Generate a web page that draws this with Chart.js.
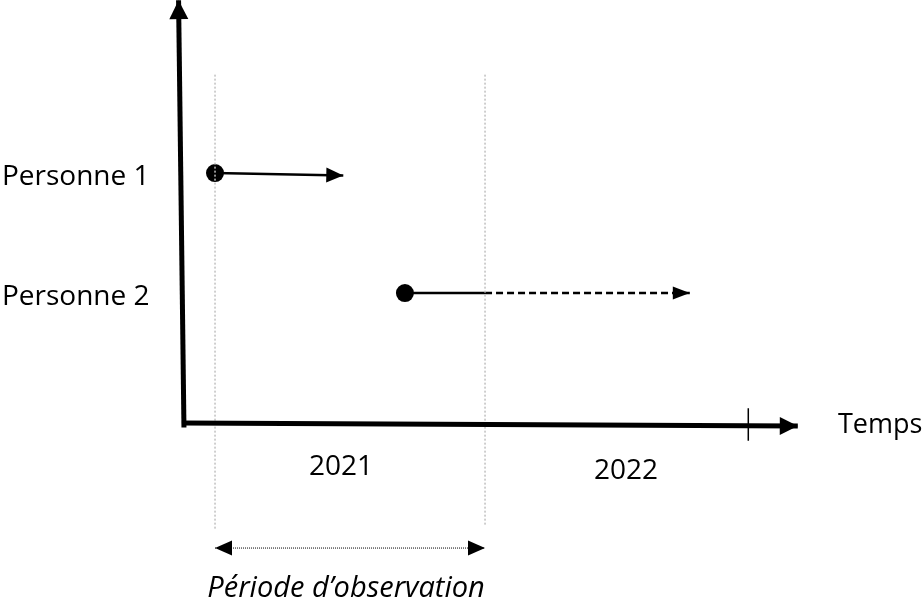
<!DOCTYPE html>
<html>
<head>
<meta charset="utf-8">
<script src="https://cdn.jsdelivr.net/npm/chart.js@4"></script>
<style>
  html, body { margin: 0; padding: 0; background: #fff; }
  #wrap { width: 922px; height: 606px; }
</style>
</head>
<body>
<div id="wrap"><canvas id="chart" width="922" height="606"></canvas></div>
<script>
// x = mois depuis le début de l'observation, y = niveau sur le schéma
const personnes = ['Personne 1', 'Personne 2'];
const personneY = [2.1, 1.1];
const debut = [0, 8.44];
const finObs = [null, 12];
const fin = [5.7, 21.1];
const annees = ['2021', '2022'];
const anneeX = [5.6, 18.27];
const anneeY = [-0.417, -0.45];
const periode = [0, 12];
const periodeLabel = 'Période d’observation';
const tickFin = 23.7;
const axeX = [-1.42, 25.9];
const axeY = [0, 3.53];
const tempsLabel = 'Temps';

const FONT = '"Open Sans", "Noto Sans", sans-serif';

// Flèches au bout des lignes
const arrowPlugin = {
  id: 'arrows',
  afterDatasetsDraw(chart) {
    const ctx = chart.ctx;
    chart.data.datasets.forEach((ds, i) => {
      if (!ds.arrow) return;
      const pts = chart.getDatasetMeta(i).data;
      const n = pts.length;
      const head = (tip, from) => {
        const a = Math.atan2(tip.y - from.y, tip.x - from.x);
        const L = ds.arrow.len, W = ds.arrow.w / 2;
        ctx.save();
        ctx.translate(tip.x, tip.y);
        ctx.rotate(a);
        ctx.beginPath();
        ctx.moveTo(0, 0);
        ctx.lineTo(-L, -W);
        ctx.lineTo(-L, W);
        ctx.closePath();
        ctx.fillStyle = '#000';
        ctx.fill();
        ctx.restore();
      };
      if (ds.arrow.end) head(pts[n - 1], pts[n - 2]);
      if (ds.arrow.start) head(pts[0], pts[1]);
    });
  }
};

// Textes du schéma
const labelPlugin = {
  id: 'labels',
  afterDraw(chart) {
    const ctx = chart.ctx;
    const x = chart.scales.x, y = chart.scales.y;
    ctx.save();
    ctx.fillStyle = '#000';
    ctx.textBaseline = 'alphabetic';
    ctx.font = '28px ' + FONT;
    ctx.textAlign = 'left';
    personnes.forEach((p, i) => {
      ctx.fillText(p, 2, y.getPixelForValue(personneY[i]) + 12);
    });
    ctx.textAlign = 'center';
    annees.forEach((a, i) => {
      ctx.fillText(a, x.getPixelForValue(anneeX[i]), y.getPixelForValue(anneeY[i]));
    });
    ctx.font = '27px ' + FONT;
    ctx.textAlign = 'left';
    ctx.fillText(tempsLabel, 838, y.getPixelForValue(0) + 8);
    ctx.textAlign = 'center';
    ctx.font = 'italic 29px ' + FONT;
    ctx.fillText(periodeLabel, x.getPixelForValue((periode[0] + periode[1]) / 2) - 4, y.getPixelForValue(-1.433));
    ctx.restore();
  }
};

const datasets = [
  // axe vertical
  { data: [{ x: axeX[0] + 0.04, y: axeY[0] - 0.02 }, { x: axeX[0] - 0.2, y: axeY[1] + 0.01 }],
    borderWidth: 5, arrow: { end: true, len: 19, w: 19 } },
  // axe horizontal
  { data: [{ x: axeX[0] - 0.05, y: 0.017 }, { x: axeX[1], y: -0.008 }],
    borderWidth: 5, arrow: { end: true, len: 18, w: 18 } },
  // graduation fin 2022
  { data: [{ x: tickFin, y: 0.14 }, { x: tickFin, y: -0.13 }], borderWidth: 1.5 },
  // limites de la période d'observation
  { data: [{ x: periode[0], y: 2.92 }, { x: periode[0], y: -0.88 }],
    borderColor: '#c0c0c0', borderWidth: 1.5, borderDash: [2, 2] },
  { data: [{ x: periode[1], y: 2.92 }, { x: periode[1], y: -0.84 }],
    borderColor: '#c0c0c0', borderWidth: 1.5, borderDash: [2, 2] },
  // période d'observation
  { data: [{ x: periode[0], y: -1.025 }, { x: periode[1], y: -1.025 }],
    borderWidth: 1, borderDash: [1, 1], arrow: { start: true, end: true, len: 17, w: 15 } },
  // Personne 1
  { data: [{ x: debut[0], y: personneY[0] }, { x: fin[0], y: personneY[0] - 0.02 }],
    borderWidth: 2.5, pointRadius: [9, 0], arrow: { end: true, len: 17, w: 15 } },
  // Personne 2 : suivi pendant la période puis au-delà
  { data: [{ x: debut[1], y: personneY[1] }, { x: finObs[1], y: personneY[1] }],
    borderWidth: 2.5, pointRadius: [9, 0] },
  { data: [{ x: finObs[1], y: personneY[1] }, { x: fin[1], y: personneY[1] }],
    borderWidth: 2.5, borderDash: [7, 4], arrow: { end: true, len: 17, w: 13 } }
];

datasets.forEach(ds => {
  ds.showLine = true;
  ds.borderColor = ds.borderColor || '#000';
  ds.backgroundColor = '#000';
  ds.pointBackgroundColor = '#000';
  ds.pointBorderWidth = 0;
  if (ds.pointRadius === undefined) ds.pointRadius = 0;
  ds.borderCapStyle = 'butt';
  ds.clip = false;
});

new Chart(document.getElementById('chart').getContext('2d'), {
  type: 'scatter',
  data: { datasets: datasets },
  options: {
    responsive: false,
    animation: false,
    layout: { padding: 0, autoPadding: false },
    plugins: { legend: { display: false }, tooltip: { enabled: false } },
    scales: {
      x: { type: 'linear', display: false, min: -9.556, max: 31.42 },
      y: { type: 'linear', display: false, min: -1.508, max: 3.542 }
    }
  },
  plugins: [arrowPlugin, labelPlugin]
});
</script>
</body>
</html>
